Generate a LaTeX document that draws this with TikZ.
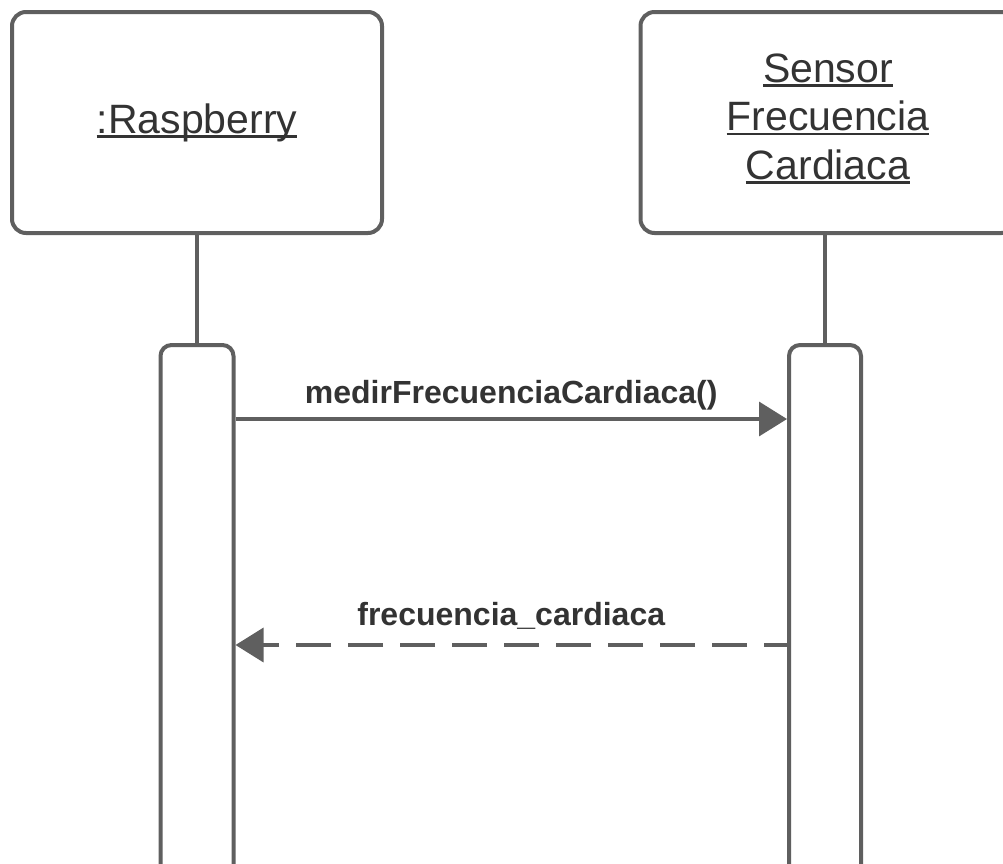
\documentclass[tikz,border=0pt]{standalone}
\usepackage{fontspec}
\setmainfont{Liberation Sans}
\usetikzlibrary{arrows.meta}
\usetikzlibrary{positioning}

\definecolor{linegray}{RGB}{95,95,95}
\definecolor{textgray}{RGB}{51,51,51}
\newcommand{\objname}[1]{\setbox0\hbox{#1}\rlap{\rule[-4.5pt]{\wd0}{2.2pt}}\box0}

\begin{document}
\begin{tikzpicture}[x=1pt,y=-1pt]
	\tikzset{object/.style = {shape=rectangle,draw=linegray,fill=white,line width=4pt,
			rounded corners=14pt,minimum width=375pt,minimum height=221pt,
			inner sep=0pt,text=textgray,align=center,
			font=\fontsize{41}{48.5}\selectfont}}
	\tikzset{activation/.style = {shape=rectangle,draw=linegray,fill=white,
			line width=4pt,rounded corners=11pt,minimum width=73pt,
			minimum height=600pt,inner sep=0pt}}
	\tikzset{lifeline/.style = {draw=linegray,line width=4pt}}
	\tikzset{msg/.style = {-{Triangle[length=28pt,width=34pt]},color=linegray,
			line width=3.5pt}}
	\tikzset{reply/.style = {msg,dash pattern=on 35pt off 17pt,dash phase=12pt}}
	\tikzset{msgtext/.style = {text=textgray,inner sep=0pt,anchor=base,
			font=\fontsize{32}{37}\selectfont\bfseries}}
	
	\useasboundingbox (0,0) rectangle (1003,863);
	\clip (0,0) rectangle (1003,863);
	
	% objects
	\node[object,minimum width=370pt] (rasp) at (197,122.5) {\objname{:Raspberry}};
	\node[object,text depth=12.5pt] (sensor) at (828,122.5)
	{\objname{Sensor}\\\objname{Frecuencia}\\\objname{Cardiaca}};
	
	% activations
	\node[activation] (actR) at (197,645) {};
	\node[activation,minimum width=72pt] (actS) at (825,645) {};
	
	% lifelines
	\draw[lifeline] (rasp.south) -- (actR.north);
	\draw[lifeline] (sensor.south -| actS.north) -- (actS.north);
	
	% messages
	\coordinate (m1) at (0,419);
	\coordinate (m2) at (0,645);
	\draw[msg] (actR.east |- m1) -- (actS.west |- m1)
	node[msgtext,midway,yshift=16pt] {medirFrecuenciaCardiaca()};
	\draw[reply] (actS.west |- m2) -- (actR.east |- m2)
	node[msgtext,midway,yshift=20pt] {frecuencia\_cardiaca};
	
\end{tikzpicture}
\end{document}
